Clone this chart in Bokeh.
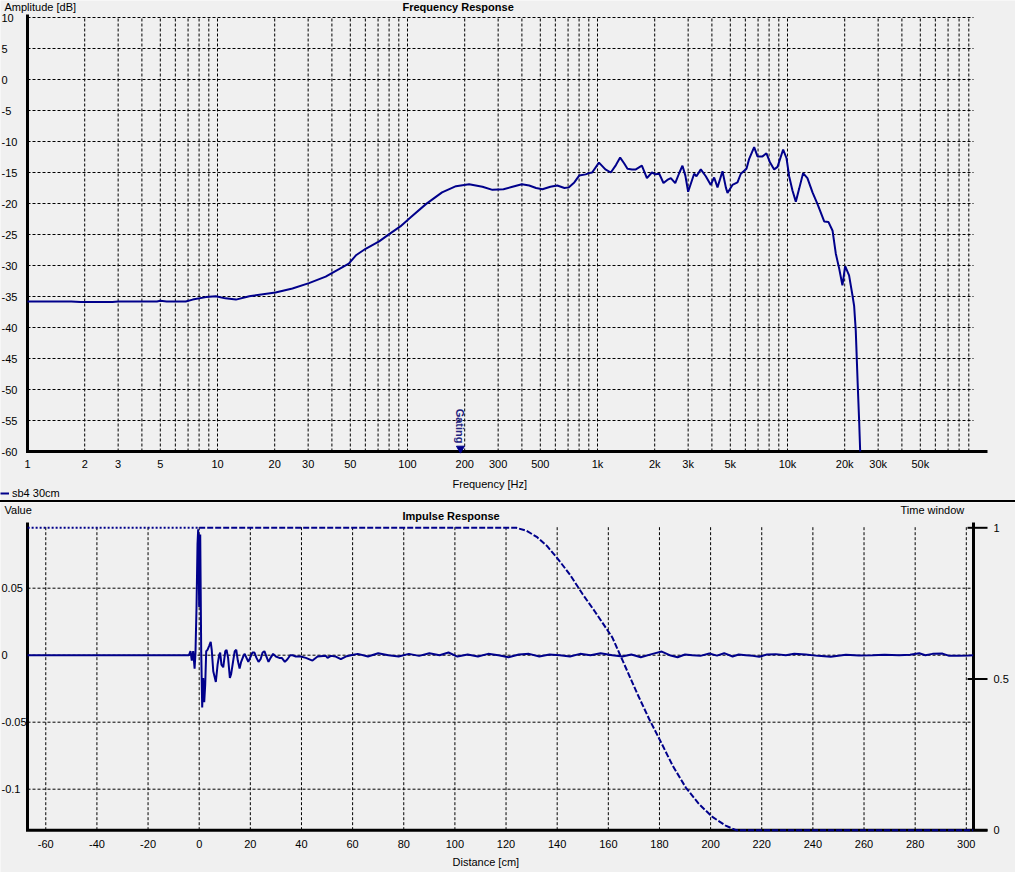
import math
from bokeh.plotting import figure
from bokeh.models import Range1d, Div, Legend, LegendItem, Label
from bokeh.layouts import column
from bokeh.embed import file_html
from bokeh.resources import INLINE
from bokeh.core.properties import value

# ---------------- data ----------------
freq_hz = [1, 1.7, 1.9, 2.8, 3.0, 4.8, 5.0, 5.4, 6.8, 7.4, 8.7, 9.8, 11, 12.5, 14.7,
           20.2, 24.8, 30.3, 37.1, 43.6, 49.1, 53.8, 60.2, 70.9, 80.5, 91.7, 104, 125,
           152, 180, 211, 248, 280, 320, 357, 400, 437, 475, 513, 565, 614, 670, 705,
           755, 801, 866, 903, 937, 1018, 1100, 1175, 1250, 1316, 1380, 1438, 1520,
           1591, 1712, 1820, 1933, 2020, 2113, 2225, 2330, 2432, 2565, 2700, 2800,
           2900, 3000, 3226, 3318, 3497, 3715, 3947, 4111, 4282, 4549, 4737, 4832,
           5131, 5455, 5680, 6083, 6285, 6676, 6952, 7385, 7750, 8069, 8509, 8860,
           9488, 9883, 10200, 10620, 11060, 11520, 12080, 12730, 13540, 14390, 15600,
           16440, 17270, 17960, 18710, 19460, 20110, 21090, 21970, 22420, 22870,
           23400, 23850, 24130]
freq_db = [-35.8, -35.8, -35.9, -35.9, -35.8, -35.8, -35.7, -35.8, -35.8, -35.5, -35.1,
           -34.95, -35.3, -35.5, -34.95, -34.35, -33.7, -32.85, -31.8, -30.6, -29.7,
           -28.3, -27.3, -26.1, -24.9, -23.7, -22.2, -20.1, -18.2, -17.2, -16.9, -17.3,
           -17.8, -17.7, -17.3, -16.9, -17.1, -17.5, -17.7, -17.3, -17.1, -17.5, -17.4,
           -16.6, -15.5, -15.3, -15.1, -15.0, -13.4, -14.5, -15.0, -13.8, -12.6, -13.5,
           -14.4, -14.5, -14.5, -13.9, -15.9, -15.0, -15.3, -15.2, -16.7, -16.2, -15.9,
           -16.7, -15.0, -13.9, -15.5, -18.1, -15.2, -15.6, -14.5, -15.6, -17.0, -15.8,
           -17.4, -14.8, -17.4, -18.3, -17.0, -16.6, -15.2, -14.4, -12.8, -10.9, -12.4,
           -12.4, -11.9, -13.3, -14.5, -14.1, -11.3, -12.7, -15.6, -17.9, -19.7, -17.6,
           -15.1, -15.9, -18.2, -20.1, -22.9, -23.0, -24.4, -28.1, -30.5, -33.2, -30.1,
           -31.6, -34.8, -36.5, -40.5, -48.9, -55.4, -60.0]

gating_hz = [190]
gating_text = ["Gating"]

freq_grid = [1, 2, 3, 4, 5, 6, 7, 8, 9,
             10, 20, 30, 40, 50, 60, 70, 80, 90,
             100, 200, 300, 400, 500, 600, 700, 800, 900,
             1000, 2000, 3000, 4000, 5000, 6000, 7000, 8000, 9000,
             10000, 20000, 30000, 40000, 50000, 60000, 70000, 80000, 90000]
freq_label_ticks = [1, 2, 3, 5, 10, 20, 30, 50, 100, 200, 300, 500,
                    1000, 2000, 3000, 5000, 10000, 20000, 30000, 50000]
freq_label_text = ["1", "2", "3", "5", "10", "20", "30", "50", "100", "200", "300", "500",
                   "1k", "2k", "3k", "5k", "10k", "20k", "30k", "50k"]
db_ticks = [-60, -55, -50, -45, -40, -35, -30, -25, -20, -15, -10, -5, 0, 5, 10]

imp_cm = [-67.1, -4.0, -3.4, -2.9, -2.35, -1.8, -1.45, -1.05, -0.66, -0.4, 0.0, 0.4,
          0.78, 1.17, 1.56, 1.96, 2.35, 2.74, 3.25, 3.9, 4.5, 4.9, 5.5, 6.0, 6.5, 7.2,
          7.8, 8.2, 8.7, 9.4, 10.2, 10.7, 11.3, 12.0, 12.5, 13.3, 13.9, 14.5, 15.1,
          15.8, 16.4, 17.2, 17.8, 18.5, 19.2, 19.9, 20.8, 21.6, 22.4, 23.2, 24.0, 24.8,
          25.5, 26.3, 27.1, 27.9, 28.9, 30.0, 31.3, 32.3, 33.5, 34.5, 35.6, 36.5, 37.8,
          39.7, 41.7, 44.3, 46.3, 49.5, 50.2, 51.5, 53.4, 55.4, 57.3, 59.3,
          62, 66, 70, 74, 78, 82, 86, 90, 94, 97.5, 101, 105, 109, 113, 117, 121, 125,
          129, 133, 137, 141, 145, 149, 153, 157, 161.6, 165.5, 169, 172.7, 177.3,
          180.9, 184, 187.1, 190, 192.9, 196, 199.5, 202.5, 205.3, 208.6, 211, 213.8,
          216.5, 219, 222, 225.5, 229.4, 232.7, 237.2, 242, 247, 252.9, 258, 263.3,
          268, 273.7, 278, 281.6, 284, 286.8, 290.7, 293.3, 297, 301.1, 302.7]
imp_val = [0.0, 0.0, 0.003, -0.004, 0.003, -0.010, 0.002, 0.036, 0.083, 0.094, 0.036, 0.090,
           0.003, -0.039, -0.017, -0.035, -0.022, 0.003, 0.004, 0.007, 0.010, 0.004,
           -0.012, -0.016, -0.020, -0.007, 0.0, 0.002, -0.007, -0.009, 0.003, 0.004,
           -0.002, -0.017, -0.014, -0.004, 0.003, 0.004, -0.004, -0.010, -0.005, -0.001,
           0.001, -0.002, -0.005, -0.002, 0.002, 0.002, -0.002, -0.005, -0.003, 0.002,
           0.003, -0.001, -0.005, -0.002, 0.001, -0.001, -0.002, -0.002, -0.005, -0.003,
           0.0, 0.0, -0.001, -0.001, -0.002, -0.004, -0.001, -0.0005, -0.002, -0.0005,
           -0.001, -0.003, -0.001, 0.0,
           0.001, -0.001, 0.0015, 0.0, -0.001, 0.001, -0.0005, 0.0015, 0.0, 0.002,
           -0.001, 0.0005, -0.001, 0.001, 0.0, -0.0015, 0.0005, 0.001, -0.001, 0.0005,
           0.0, -0.001, 0.001, 0.0, 0.0015, 0.0, -0.001, 0.0005, -0.0015, 0.001, 0.0027,
           0.0, -0.0015, 0.0005, 0.0, -0.0005, 0.0012, -0.0003, 0.0015, -0.001, 0.0005,
           0.0, -0.0005, -0.0012, 0.0005, 0.0008, 0.0, 0.001, 0.0005, -0.0005, -0.0012,
           0.0003, -0.0003, 0.0, 0.0003, 0.0, 0.0003, 0.0015, 0.0, 0.001, 0.0012,
           -0.0005, -0.0004, -0.0003, 0.0]

pre_win_cm = [-67.1, 0.0]
pre_win_val = [1.0, 1.0]
win_cm = [0.0, 124, 128, 132, 136, 140, 145, 150, 155, 161.6, 166.8, 171.4, 176, 180,
          185.2, 190.3, 195.5, 200.7, 205.9, 210, 302.7]
win_val = [1.0, 1.0, 0.99, 0.97, 0.94, 0.90, 0.845, 0.78, 0.72, 0.637, 0.538, 0.45,
           0.367, 0.301, 0.213, 0.141, 0.086, 0.044, 0.015, 0.0, 0.0]

dist_ticks = [-60, -40, -20, 0, 20, 40, 60, 80, 100, 120, 140, 160, 180, 200, 220,
              240, 260, 280, 300]
value_ticks = [-0.1, -0.05, 0, 0.05]
value_tick_text = ["-0.1", "-0.05", "0", "0.05"]
window_ticks = [0, 0.5, 1]
window_tick_text = ["0", "0.5", "1"]

# ---------------- style / layout constants ----------------
NAVY = "#00008B"
BG = "#F0F0F0"
FONT = "Liberation Sans"
FS = "11px"
W, H1, H2, SEP = 1015, 500, 370, 2
OX, OY1 = 8, 8
OY2 = OY1 + H1 + SEP

# window-pixel -> data helpers (layout only)
def fx1(wx):
    return 10 ** ((wx - 35) / 190.0)

def fy1(wy):
    return -60 + (459 - wy) / 6.2

def fx2(wx):
    return (wx - 206.7) / 2.557

def fy2(wy):
    return (662.7 - wy) / 1340.0

def fw2(wy):
    return (837.7 - wy) / 302.4


def base(p):
    p.background_fill_color = BG
    p.border_fill_color = BG
    p.outline_line_color = None
    p.grid.visible = False


def txt(p, xs, ys, texts, align="left", baseline="middle", bold=False,
        color="black", **kw):
    p.text(xs, ys, text=texts, text_align=align, text_baseline=baseline,
           text_font=value(FONT), text_font_size=FS,
           text_font_style="bold" if bold else "normal", text_color=color, **kw)


GRID = dict(line_color="black", line_width=1, line_dash="3 2")
AXIS = dict(line_color="black", line_width=3, line_cap="butt")

# ---------------- top: frequency response ----------------
p1 = figure(width=W, height=H1, x_axis_type="log",
            x_axis_location=None, y_axis_location=None,
            x_range=Range1d(fx1(OX), fx1(OX + W)),
            y_range=Range1d(fy1(OY1 + H1), fy1(OY1)),
            min_border=0, output_backend="svg", toolbar_location=None)
base(p1)
F_LO, F_HI = 1, fx1(981)
DB_LO, DB_HI = -60, 10

n = len(freq_grid)
p1.segment(freq_grid, [DB_LO] * n, freq_grid, [DB_HI] * n, **GRID)
hg = [t for t in db_ticks if t != DB_LO]
p1.segment([F_LO] * len(hg), hg, [F_HI] * len(hg), hg, **GRID)
p1.segment([F_LO], [DB_LO], [F_LO], [fy1(22)], **AXIS)
p1.segment([fx1(33.5)], [DB_LO], [fx1(995)], [DB_LO], **AXIS)

r_freq = p1.line(freq_hz, freq_db, line_color=NAVY, line_width=2)
p1.scatter(gating_hz, [fy1(456)], marker="inverted_triangle", size=8,
           fill_color=NAVY, line_color=NAVY)
p1.text(gating_hz, [fy1(451)], text=gating_text, angle=-math.pi / 2,
        text_align="right", text_baseline="middle",
        text_font=value(FONT), text_font_size=FS, text_font_style="bold",
        text_color="#23237F")

txt(p1, freq_label_ticks, [fy1(471)] * len(freq_label_ticks), freq_label_text,
    align="center")
txt(p1, [fx1(9)] * len(db_ticks), db_ticks, [str(t) for t in db_ticks])
txt(p1, [fx1(12)], [fy1(8)], ["Amplitude [dB]"], baseline="top")
txt(p1, [fx1(410)], [fy1(8)], ["Frequency Response"], baseline="top", bold=True)
txt(p1, [fx1(460)], [fy1(491.5)], ["Frequency [Hz]"])

leg = Legend(items=[LegendItem(label="sb4 30cm", renderers=[r_freq])],
             location=(0, 1), orientation="horizontal", padding=0, margin=0,
             spacing=0, glyph_width=9, glyph_height=12, label_height=12,
             label_standoff=3, label_text_font=FONT, label_text_font_size=FS,
             label_text_color="black", border_line_color=None,
             background_fill_alpha=0)
p1.add_layout(leg)

# ---------------- separator ----------------
sep = Div(width=W, height=SEP, margin=(0, 0, 0, 0),
          styles={"background-color": "black"})

# ---------------- bottom: impulse response ----------------
p2 = figure(width=W, height=H2, x_axis_location=None, y_axis_location=None,
            x_range=Range1d(fx2(OX), fx2(OX + W)),
            y_range=Range1d(fy2(OY2 + H2), fy2(OY2)),
            min_border=0, output_backend="svg", toolbar_location=None)
p2.extra_y_ranges = {"win": Range1d(fw2(OY2 + H2), fw2(OY2))}
base(p2)
X_LO, X_HI = fx2(35), fx2(981)
V_LO, V_TOP = fy2(837.7), fy2(533)

n = len(dist_ticks)
p2.segment(dist_ticks, [V_LO] * n, dist_ticks, [V_TOP] * n, **GRID)
n = len(value_ticks)
p2.segment([X_LO] * n, value_ticks, [X_HI] * n, value_ticks, **GRID)
p2.segment([X_LO, X_HI], [V_LO, V_LO], [X_LO, X_HI], [fy2(530), fy2(530)], **AXIS)
p2.segment([fx2(33.5)], [V_LO], [fx2(995)], [V_LO], **AXIS)
n = len(window_ticks)
p2.segment([fx2(975)] * n, window_ticks, [fx2(995)] * n, window_ticks,
           y_range_name="win", line_color="black", line_width=2)

p2.line(pre_win_cm, pre_win_val, y_range_name="win", line_color=NAVY,
        line_width=2, line_dash="2 2")
p2.line(win_cm, win_val, y_range_name="win", line_color=NAVY,
        line_width=2, line_dash="6 2")
p2.line(imp_cm, imp_val, line_color=NAVY, line_width=2)

txt(p2, dist_ticks, [fy2(851)] * len(dist_ticks), [str(t) for t in dist_ticks],
    align="center")
txt(p2, [fx2(9)] * len(value_ticks), value_ticks, value_tick_text)
txt(p2, [fx2(1001)] * len(window_ticks), window_ticks, window_tick_text,
    y_range_name="win")
txt(p2, [fx2(12)], [fy2(517.5)], ["Value"])
txt(p2, [fx2(410)], [fy2(523)], ["Impulse Response"], bold=True)
txt(p2, [fx2(908)], [fy2(517.5)], ["Time window"])
txt(p2, [fx2(460)], [fy2(869.5)], ["Distance [cm]"])

layout = column(p1, sep, p2, spacing=0)
open("out.html", "w").write(file_html(layout, INLINE))
